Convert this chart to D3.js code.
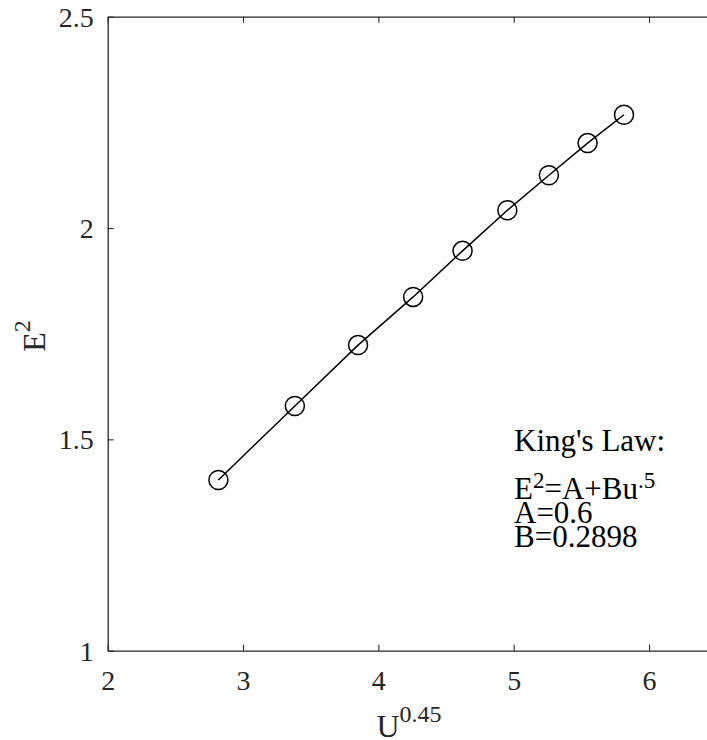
<!DOCTYPE html>
<html>
<head>
<meta charset="utf-8">
<script src="https://cdn.jsdelivr.net/npm/d3@7"></script>
<style>
  html, body { margin: 0; padding: 0; background: #fff; overflow: hidden; }
  svg, svg text { font-family: "Liberation Serif", "Times New Roman", Times, "DejaVu Serif", serif !important; }
</style>
</head>
<body>
<svg id="chart" width="707" height="740"></svg>
<script>
// Calibration data: U^0.45 against E^2 (hot-wire, King's law)
const uPow = [2.818, 3.383, 3.850, 4.257, 4.622, 4.953, 5.260, 5.546, 5.815];
const eSq  = [1.404, 1.579, 1.723, 1.837, 1.946, 2.042, 2.125, 2.201, 2.268];

const xTicks = [2, 3, 4, 5, 6];
const yTicks = [1, 1.5, 2, 2.5];
const xDomain = [2, 6.5];
const yDomain = [1, 2.5];

const fitLines = ["A=0.6", "B=0.2898"];

const serif = "'Liberation Serif', 'Times New Roman', Times, serif";
const svg = d3.select("#chart").style("font-family", serif);
const margin = { left: 107.7, top: 16.7 };
const plotW = 609, plotH = 634;
const axisColor = "#262626";

const x = d3.scaleLinear().domain(xDomain).range([0, plotW]);
const y = d3.scaleLinear().domain(yDomain).range([plotH, 0]);

const g = svg.append("g").attr("transform", `translate(${margin.left},${margin.top})`);

function styleAxis(sel) {
  sel.attr("font-family", null).style("font-family", serif);
  sel.select(".domain").attr("stroke", axisColor).attr("stroke-width", 1.3);
  sel.selectAll(".tick line").attr("stroke", axisColor).attr("stroke-width", 1.1);
  sel.selectAll(".tick text").attr("fill", axisColor).attr("font-size", 28)
     .style("font-family", serif);
}

// Bottom axis with labels
g.append("g").attr("class", "xaxis").attr("transform", `translate(0,${plotH})`)
  .call(d3.axisBottom(x).tickValues(xTicks).tickFormat(d => String(d)).tickSize(-6).tickSizeOuter(0))
  .call(styleAxis)
  .call(s => s.selectAll(".tick text").attr("y", 39).attr("dy", null));

// Top axis, ticks only
g.append("g")
  .call(d3.axisTop(x).tickValues(xTicks).tickFormat("").tickSize(-6).tickSizeOuter(0))
  .call(styleAxis);

// Left axis with labels
g.append("g")
  .call(d3.axisLeft(y).tickValues(yTicks).tickFormat(d => String(d)).tickSize(-6).tickSizeOuter(0))
  .call(styleAxis)
  .call(s => s.selectAll(".tick text").attr("x", -14).attr("dy", "0.34em"));

// Right axis, ticks only
g.append("g").attr("transform", `translate(${plotW},0)`)
  .call(d3.axisRight(y).tickValues(yTicks).tickFormat("").tickSize(-6).tickSizeOuter(0))
  .call(styleAxis);

// Data line and circle markers
const pts = uPow.map((u, i) => [u, eSq[i]]);
g.append("path")
  .datum(pts)
  .attr("fill", "none")
  .attr("stroke", "#000")
  .attr("stroke-width", 1.5)
  .attr("d", d3.line().x(d => x(d[0])).y(d => y(d[1])));

g.selectAll("circle.pt")
  .data(pts)
  .join("circle")
  .attr("class", "pt")
  .attr("cx", d => x(d[0]))
  .attr("cy", d => y(d[1]))
  .attr("r", 9.5)
  .attr("fill", "none")
  .attr("stroke", "#000")
  .attr("stroke-width", 1.5);

// Axis labels
const xl = svg.append("text")
  .attr("x", 409)
  .attr("y", 737)
  .attr("text-anchor", "middle")
  .attr("font-size", 32)
  .attr("fill", axisColor);
xl.append("tspan").text("U");
xl.append("tspan").attr("font-size", 24).attr("dy", -15).text("0.45");

const yl = svg.append("text")
  .attr("transform", `translate(45,336) rotate(-90)`)
  .attr("text-anchor", "middle")
  .attr("font-size", 32)
  .attr("fill", axisColor);
yl.append("tspan").text("E");
yl.append("tspan").attr("font-size", 24).attr("dy", -15).text("2");

// Fit annotation
const tx = 514;
svg.append("text").attr("x", tx).attr("y", 451).attr("font-size", 31).text("King's Law:");
const eq = svg.append("text").attr("x", tx).attr("y", 499).attr("font-size", 31);
eq.append("tspan").text("E");
eq.append("tspan").attr("font-size", 23).attr("dy", -11).text("2");
eq.append("tspan").attr("dy", 11).text("=A+Bu");
eq.append("tspan").attr("font-size", 23).attr("dy", -11).text(".5");
svg.selectAll("text.fit")
  .data(fitLines)
  .join("text")
  .attr("class", "fit")
  .attr("x", tx)
  .attr("y", (d, i) => 523 + i * 24)
  .attr("font-size", 31)
  .text(d => d);
</script>
</body>
</html>
